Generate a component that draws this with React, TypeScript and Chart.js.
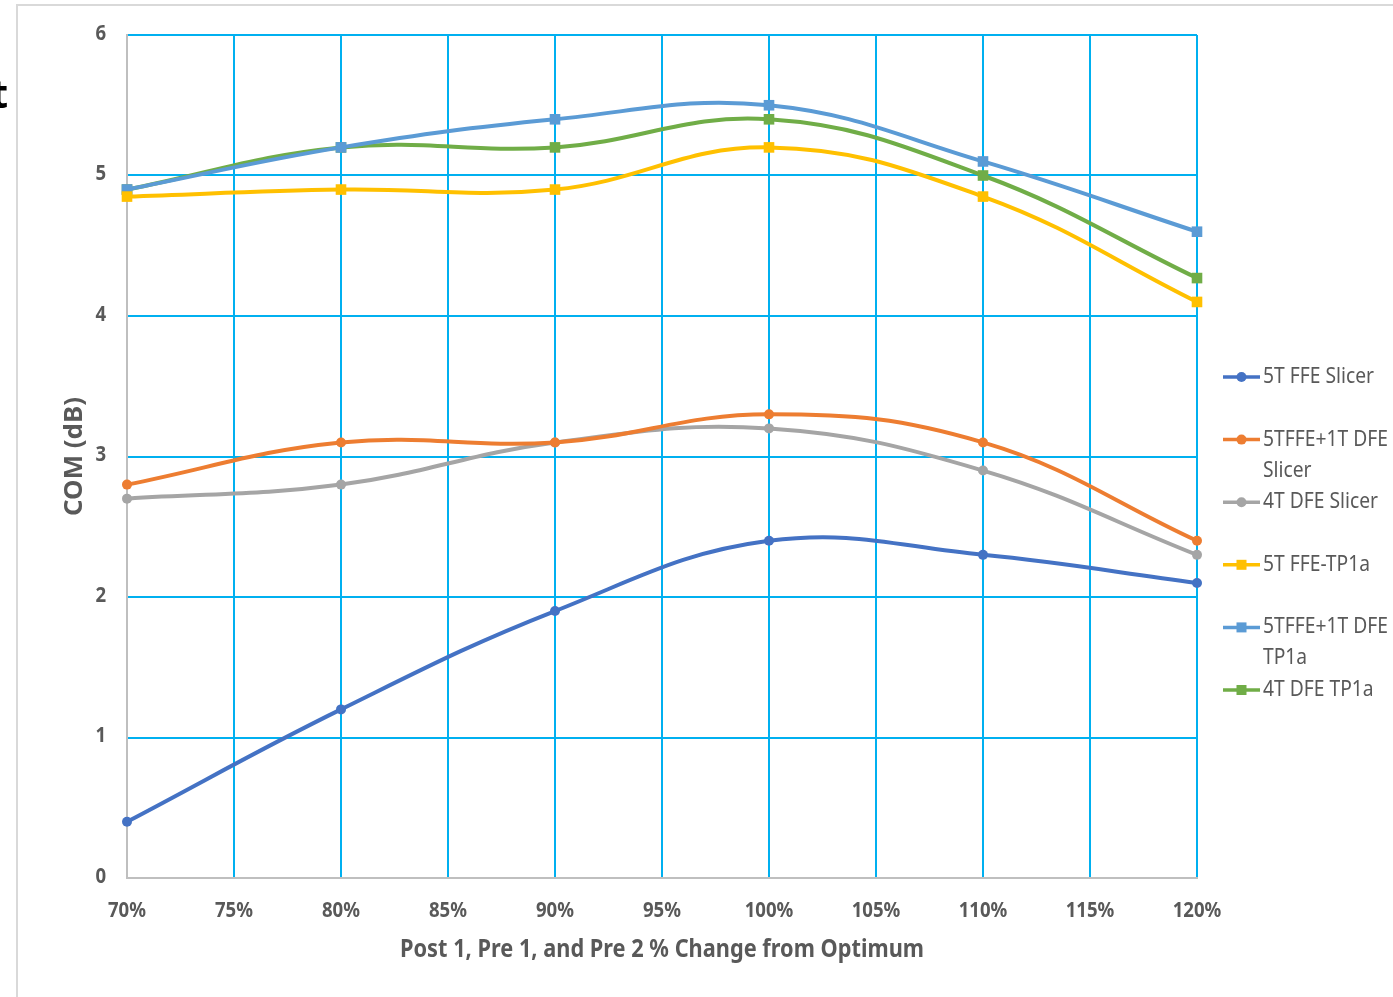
import React, { useEffect, useRef } from "react";
import { Chart, registerables } from "chart.js";

Chart.register(...registerables);

const xValues = [70, 80, 90, 100, 110, 120];
const xTickStep = 5;
const yTickValues = [0, 1, 2, 3, 4, 5, 6];

const seriesNames = [
  ["5T FFE Slicer"],
  ["5TFFE+1T DFE", "Slicer"],
  ["4T DFE Slicer"],
  ["5T FFE-TP1a"],
  ["5TFFE+1T DFE", "TP1a"],
  ["4T DFE TP1a"],
];

const s5tFfeSlicer = [0.4, 1.2, 1.9, 2.4, 2.3, 2.1];
const s5tFfe1tDfeSlicer = [2.8, 3.1, 3.1, 3.3, 3.1, 2.4];
const s4tDfeSlicer = [2.7, 2.8, 3.1, 3.2, 2.9, 2.3];
const s5tFfeTp1a = [4.85, 4.9, 4.9, 5.2, 4.85, 4.1];
const s5tFfe1tDfeTp1a = [4.9, 5.2, 5.4, 5.5, 5.1, 4.6];
const s4tDfeTp1a = [4.9, 5.2, 5.2, 5.4, 5.0, 4.27];

const seriesValues = [
  s5tFfeSlicer,
  s5tFfe1tDfeSlicer,
  s4tDfeSlicer,
  s5tFfeTp1a,
  s5tFfe1tDfeTp1a,
  s4tDfeTp1a,
];

const seriesColors = ["#4472C4", "#ED7D31", "#A5A5A5", "#FFC000", "#5B9BD5", "#70AD47"];
const seriesMarkers = ["circle", "circle", "circle", "rect", "rect", "rect"];

const xTitle = "Post 1, Pre 1, and Pre 2 % Change from Optimum";
const yTitle = "COM (dB)";

const GRID = "#00B0F0";
const TEXT = "#595959";
const FONT = "'Noto Sans', 'Open Sans', sans-serif";

// draw text horizontally condensed so that it has the given width (Calibri-like look)
function drawFitted(ctx: any, text: string, x: number, y: number, width: number, align: string) {
  const w = ctx.measureText(text).width;
  const s = width / w;
  ctx.save();
  ctx.translate(x, y);
  ctx.scale(s, 1);
  ctx.textAlign = align;
  ctx.fillText(text, 0, 0);
  ctx.restore();
}

const framePlugin = {
  id: "framePlugin",
  beforeDraw(chart: any) {
    const ctx = chart.ctx;
    ctx.save();
    ctx.fillStyle = "#ffffff";
    ctx.fillRect(0, 0, chart.width, chart.height);
    ctx.strokeStyle = "#D9D9D9";
    ctx.lineWidth = 2;
    ctx.strokeRect(17, 5, chart.width + 50, chart.height + 50);
    ctx.fillStyle = "#000000";
    ctx.font = `bold 40px ${FONT}`;
    ctx.textAlign = "right";
    ctx.textBaseline = "alphabetic";
    ctx.fillText("t", 8, 108);
    ctx.restore();
  },
};

const axisTextPlugin = {
  id: "axisText",
  afterDraw(chart: any) {
    const ctx = chart.ctx;
    const xs = chart.scales.x;
    const ys = chart.scales.y;
    const area = chart.chartArea;
    ctx.save();
    ctx.fillStyle = TEXT;
    ctx.textBaseline = "middle";
    ctx.font = `bold 21px ${FONT}`;
    const k = 38 / ctx.measureText("70%").width;
    xs.ticks.forEach((t: any) => {
      const label = `${t.value}%`;
      const px = xs.getPixelForValue(t.value);
      drawFitted(ctx, label, px, area.bottom + 33, ctx.measureText(label).width * k, "center");
    });
    yTickValues.forEach((v) => {
      const py = ys.getPixelForValue(v);
      const label = String(v);
      drawFitted(ctx, label, area.left - 21, py - 1, ctx.measureText(label).width * k, "right");
    });
    ctx.font = `bold 25px ${FONT}`;
    drawFitted(ctx, xTitle, (area.left + area.right) / 2, 950, 524, "center");
    ctx.save();
    ctx.translate(75, (area.top + area.bottom) / 2);
    ctx.rotate(-Math.PI / 2);
    drawFitted(ctx, yTitle, 0, 0, 119, "center");
    ctx.restore();
    ctx.restore();
  },
};

const legendPlugin = {
  id: "customLegend",
  afterDraw(chart: any) {
    const ctx = chart.ctx;
    const area = chart.chartArea;
    const x0 = area.right + 26;
    const lineLen = 37;
    const textX = x0 + lineLen + 3;
    const startY = 377;
    const pitch = 62.6;
    const lineH = 31;
    ctx.save();
    ctx.font = `21px ${FONT}`;
    const sx = 111 / ctx.measureText(seriesNames[0][0]).width;
    seriesNames.forEach((lines, i) => {
      const y = startY + i * pitch;
      const c = seriesColors[i];
      ctx.strokeStyle = c;
      ctx.lineWidth = 3.5;
      ctx.beginPath();
      ctx.moveTo(x0, y);
      ctx.lineTo(x0 + lineLen, y);
      ctx.stroke();
      ctx.fillStyle = c;
      const mx = x0 + lineLen / 2;
      if (seriesMarkers[i] === "circle") {
        ctx.beginPath();
        ctx.arc(mx, y, 5, 0, Math.PI * 2);
        ctx.fill();
      } else {
        ctx.fillRect(mx - 5, y - 5, 10, 10);
      }
      ctx.fillStyle = TEXT;
      ctx.textAlign = "left";
      ctx.textBaseline = "middle";
      lines.forEach((t, j) => {
        ctx.save();
        ctx.translate(textX, y + j * lineH);
        ctx.scale(sx, 1);
        ctx.fillText(t, 0, 0);
        ctx.restore();
      });
    });
    ctx.restore();
  },
};

export default function App() {
  const ref = useRef<HTMLCanvasElement | null>(null);

  useEffect(() => {
    if (!ref.current) return;
    const datasets = seriesValues.map((vals, i) => ({
      label: seriesNames[i].join(" "),
      data: vals.map((v, k) => ({ x: xValues[k], y: v })),
      borderColor: seriesColors[i],
      backgroundColor: seriesColors[i],
      pointBackgroundColor: seriesColors[i],
      pointBorderColor: seriesColors[i],
      pointBorderWidth: 0,
      pointStyle: seriesMarkers[i],
      pointRadius: seriesMarkers[i] === "rect" ? 7.5 : 5,
      borderWidth: 4,
      tension: 0.4,
      cubicInterpolationMode: "default",
      clip: false,
    }));

    const chart = new Chart(ref.current, {
      type: "line",
      data: { datasets } as any,
      plugins: [framePlugin, axisTextPlugin, legendPlugin],
      options: {
        animation: false,
        responsive: false,
        devicePixelRatio: 1,
        layout: { padding: { left: 0, top: 35, right: 196, bottom: 0 } },
        plugins: { legend: { display: false }, tooltip: { enabled: false } },
        scales: {
          x: {
            type: "linear",
            min: xValues[0],
            max: xValues[xValues.length - 1],
            afterFit: (s: any) => {
              s.height = 119;
            },
            ticks: {
              display: false,
              stepSize: xTickStep,
              maxRotation: 0,
            },
            grid: { color: GRID, lineWidth: 2, drawTicks: false },
            border: { color: "#BFBFBF", width: 2 },
            title: { display: false },
          },
          y: {
            min: 0,
            max: 6,
            afterFit: (s: any) => {
              s.width = 127;
            },
            afterBuildTicks: (s: any) => {
              s.ticks = yTickValues.map((v) => ({ value: v }));
            },
            ticks: { display: false },
            grid: { color: GRID, lineWidth: 2, drawTicks: false },
            border: { color: "#BFBFBF", width: 2 },
            title: { display: false },
          },
        },
      } as any,
    });
    return () => chart.destroy();
  }, []);

  return (
    <div style={{ position: "absolute", left: 0, top: 0, width: 1393, height: 997 }}>
      <canvas ref={ref} width={1393} height={997} style={{ display: "block" }} />
    </div>
  );
}
